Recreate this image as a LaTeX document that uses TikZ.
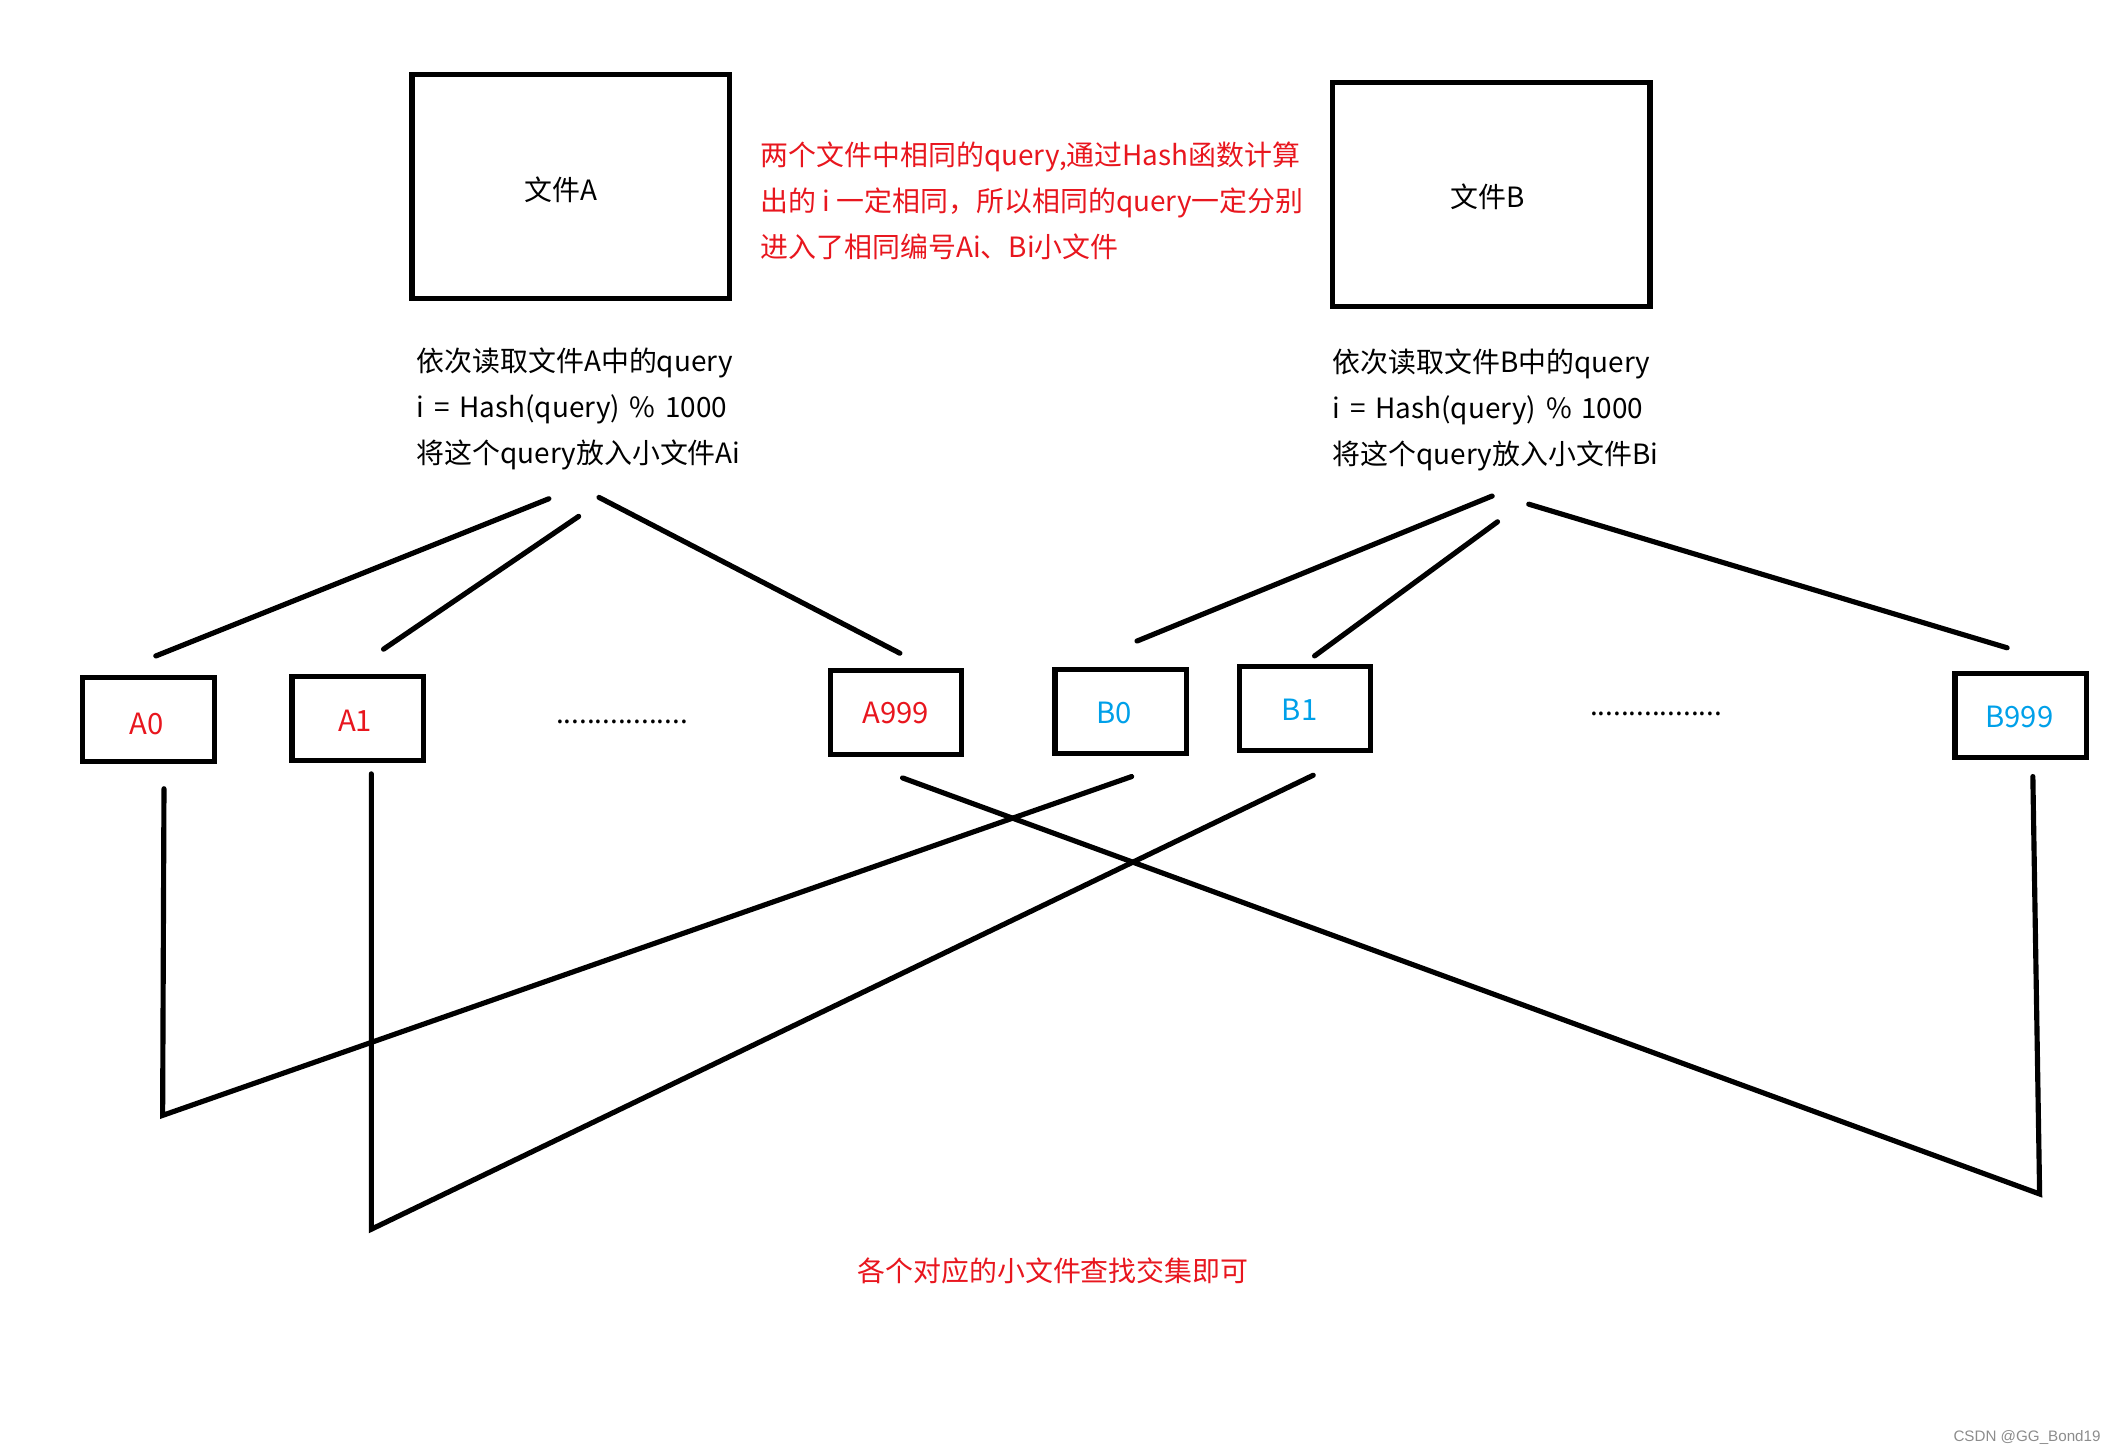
\documentclass[tikz,border=0pt]{standalone}
\usepackage{fontspec}
\setmainfont{Noto Sans CJK SC}
\newfontfamily\markfont{Liberation Sans}
\usetikzlibrary{positioning}
\definecolor{notered}{RGB}{232,22,30}
\definecolor{noteblue}{RGB}{0,160,233}
\newcommand\wgap{\hspace{3.6pt}}
\tikzset{
  bigfile/.style={draw,line width=1.9pt,minimum width=117pt,minimum height=82.5pt,inner sep=0pt},
  smallfile/.style={draw,line width=1.9pt,minimum width=48.5pt,minimum height=31pt,inner sep=0pt},
  smalllabel/.style={font=\fontsize{10.8}{13}\selectfont},
  hashline/.style={line width=1.9pt,line cap=round},
  stepnote/.style={align=left,anchor=north west,inner sep=0pt}
}
\begin{document}
\begin{tikzpicture}[x=0.5pt,y=-0.5pt,font=\fontsize{10.3}{17}\selectfont]
    \useasboundingbox (0,0) rectangle (1568,1073);
    % the two big files
    \node[bigfile] (fileA) at (421,137.5) {};
    \node[bigfile] (fileB) at (1100.5,143.5) {};
    \node (nameA) at (414,140) {文件A};
    \node (nameB) at (1098,145) {文件B};
    \node[stepnote,text=notered] (note) at (561,104)
      {两个文件中相同的query,通过Hash函数计算\\出的 i 一定相同，所以相同的query一定分别\\进入了相同编号Ai、Bi小文件};
    \node[stepnote] (stepA) at (307,256)
      {依次读取文件A中的query\\i\wgap=\wgap Hash(query)\wgap\%\wgap 1000\\将这个query放入小文件Ai};
    \node[stepnote] (stepB) at (983,257)
      {依次读取文件B中的query\\i\wgap=\wgap Hash(query)\wgap\%\wgap 1000\\将这个query放入小文件Bi};
    % small files
    \node[smallfile] (A0) at (109.5,531) {};
    \node[smallfile] (A1) at (264,530) {};
    \node[smallfile] (A999) at (661,525.5) {};
    \node[smallfile] (B0) at (827,525) {};
    \node[smallfile] (B1) at (963,523) {};
    \node[smallfile] (B999) at (1491,528) {};
    \node[smalllabel,text=notered] (labA0) at (108,534) {A0};
    \node[smalllabel,text=notered] (labA1) at (262,532) {A1};
    \node[smalllabel,text=notered] (labA999) at (661,526) {A999};
    \node[smalllabel,text=noteblue] (labB0) at (822,526) {B0};
    \node[smalllabel,text=noteblue] (labB1) at (959,524) {B1};
    \node[smalllabel,text=noteblue] (labB999) at (1490,529) {B999};
    \node (dotsA) at (459,533) {.................};
    \node (dotsB) at (1222,527) {.................};
    % fan out from A
    \coordinate (sA0) at (405,368);  \coordinate (eA0) at (115,484);
    \coordinate (sA1) at (427,381);  \coordinate (eA1) at (283,479);
    \coordinate (sA9) at (442,367);  \coordinate (eA9) at (664,482);
    \draw[hashline] (sA0) -- (eA0);
    \draw[hashline] (sA1) -- (eA1);
    \draw[hashline] (sA9) -- (eA9);
    % fan out from B
    \coordinate (sB0) at (1101,366); \coordinate (eB0) at (839,473);
    \coordinate (sB1) at (1105,385); \coordinate (eB1) at (970,484);
    \coordinate (sB9) at (1128,372); \coordinate (eB9) at (1481,478);
    \draw[hashline] (sB0) -- (eB0);
    \draw[hashline] (sB1) -- (eB1);
    \draw[hashline] (sB9) -- (eB9);
    % pairing Ai with Bi
    \coordinate (pA0) at (121,582);  \coordinate (kA0) at (120,823);  \coordinate (pB0) at (835,573);
    \coordinate (pA1) at (274,571);  \coordinate (kA1) at (274,907);  \coordinate (pB1) at (969,572);
    \coordinate (pA9) at (666,574);  \coordinate (kB9) at (1505,881); \coordinate (pB9) at (1500,573);
    \draw[hashline] (pA0) -- (kA0) -- (pB0);
    \draw[hashline] (pA1) -- (kA1) -- (pB1);
    \draw[hashline] (pA9) -- (kB9) -- (pB9);
    \node[text=notered] (result) at (777,938) {各个对应的小文件查找交集即可};
    \node[text=black!45,font=\markfont\fontsize{5.6}{6}\selectfont,anchor=east] (mark) at (1557,1061) {CSDN @GG\_Bond19};
  \end{tikzpicture}
\end{document}
